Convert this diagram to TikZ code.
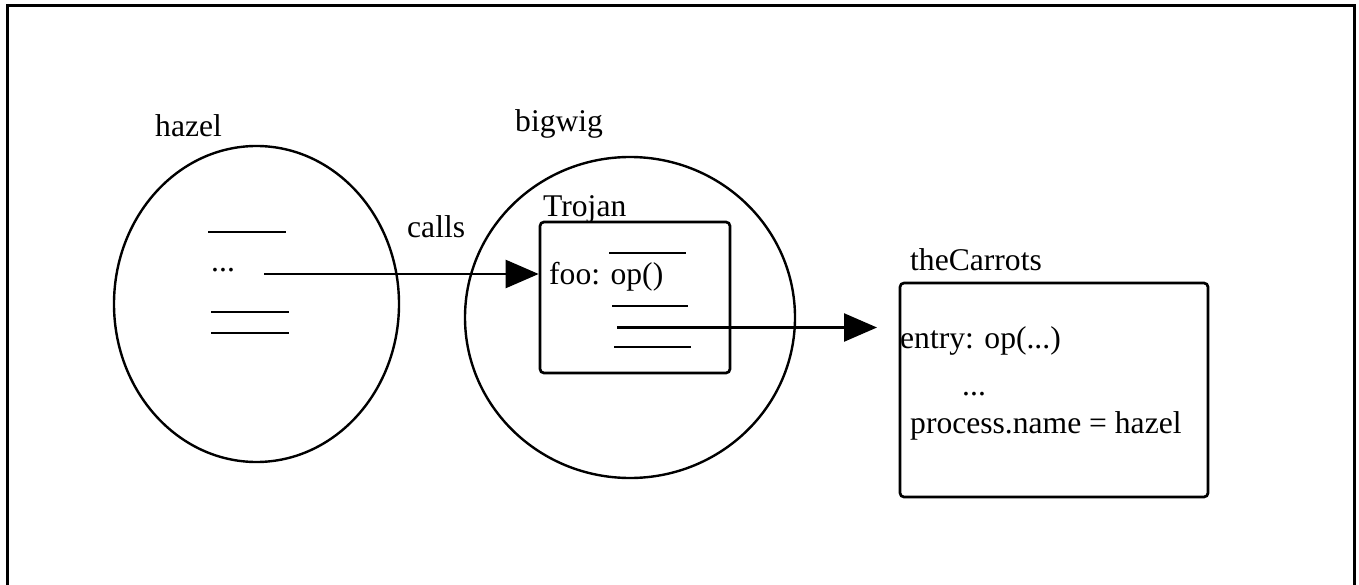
\documentclass[tikz,border=0pt]{standalone}
\usepackage{fontspec}
\setmainfont{Liberation Serif}
\usetikzlibrary{arrows.meta,shapes.geometric}
\begin{document}
\begin{tikzpicture}[x=1pt,y=-1pt,
  lbl/.style={anchor=base west,inner sep=0pt,font=\fontsize{31.6}{37}\selectfont},
  proc/.style={draw,ellipse,line width=2.4pt,inner sep=0pt},
  obj/.style={draw,rectangle,rounded corners=4pt,line width=2.7pt,inner sep=0pt},
  bar/.style={line width=2.8pt},
  arr/.style={line width=2.5pt,-{Triangle[length=33pt,width=28pt]}}]
\useasboundingbox (0,0) rectangle (1359,585);
\draw[line width=3pt] (7,585) -- (7,6) -- (1354,6) -- (1354,585);
% processes
\node[proc,minimum width=285pt,minimum height=316pt] (hazel) at (256.5,304) {};
\node[proc,minimum width=330pt,minimum height=321pt] (bigwig) at (630,317.5) {};
% objects
\node[obj,minimum width=190pt,minimum height=151pt] (trojan) at (635,297.5) {};
\node[obj,minimum width=308pt,minimum height=214pt] (carrots) at (1054,390) {};
% labels
\node[lbl] (lhazel) at (155,137) {hazel};
\node[lbl] (lbigwig) at (515,132) {bigwig};
\node[lbl] (lcalls) at (407,238) {calls};
\node[lbl] (ltrojan) at (543,217) {Trojan};
\node[lbl] (lcarrots) at (910,270) {theCarrots};
\node[lbl] (ldots1) at (211,271) {...};
\node[lbl] (lfoo) at (549,284) {foo: op()};
\node[lbl] (lentry) at (900,348) {entry: op(...)};
\node[lbl] (ldots2) at (962,395) {...};
\node[lbl] (lproc) at (910,433) {process.name = hazel};
% bars in hazel
\draw[bar] (208,232) -- (286,232);
\draw[bar] (211,312) -- (289,312);
\draw[bar] (211,333) -- (289,333);
% bars in Trojan
\draw[bar] (609,253) -- (686,253);
\draw[bar] (612,306) -- (688,306);
\draw[bar] (614,347) -- (691,347);
% connectors
\coordinate (a1) at (264,274);
\draw[arr] (a1) -- (a1 -| trojan.west);
\coordinate (a2) at (617,327.5);
\coordinate (a2e) at (877,327.5);
\draw[arr] (a2) -- (a2e);
\end{tikzpicture}
\end{document}
